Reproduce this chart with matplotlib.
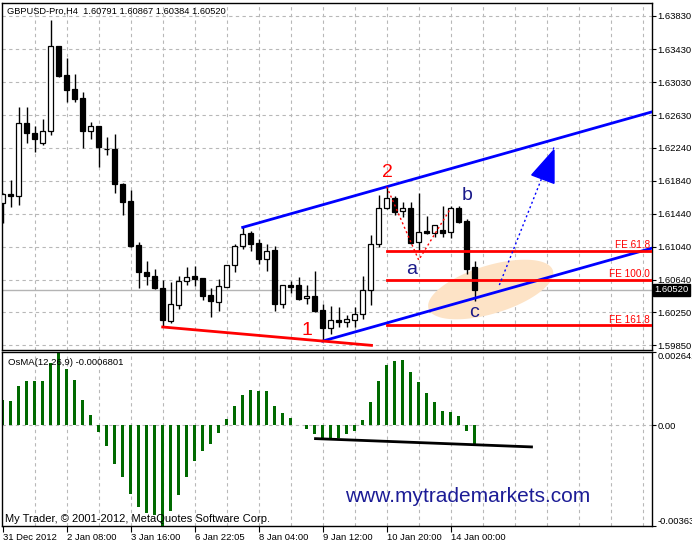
import numpy as np
import matplotlib
matplotlib.use('Agg')
import matplotlib.pyplot as plt
from matplotlib.transforms import blended_transform_factory
from matplotlib.patches import Polygon

plt.rcParams['font.family'] = ['Liberation Sans', 'DejaVu Sans']

# ---- GBPUSD H4 candles ----
opens = [1.61576, 1.61679, 1.61655, 1.62533, 1.62412, 1.62292, 1.62437, 1.63467, 1.63113, 1.62944,
         1.62839, 1.62437, 1.62501, 1.62226, 1.62219, 1.61800, 1.61594, 1.61059, 1.60733, 1.60684,
         1.60539, 1.60148, 1.60341, 1.60624, 1.60688, 1.60664, 1.60458, 1.60377, 1.60559, 1.60817,
         1.61054, 1.61204, 1.61083, 1.60890, 1.61002, 1.60353, 1.60576, 1.60579, 1.60418, 1.60446,
         1.60273, 1.60063, 1.60153, 1.60128, 1.60160, 1.60225, 1.60515, 1.61075, 1.61506, 1.61627,
         1.61470, 1.61506, 1.61095, 1.61228, 1.61204, 1.61240, 1.61216, 1.61506, 1.61352, 1.60791]
highs = [1.61691, 1.61848, 1.62727, 1.62727, 1.62501, 1.62582, 1.63782, 1.63470, 1.63322, 1.63129,
         1.62912, 1.62549, 1.62505, 1.62371, 1.62404, 1.61815, 1.61727, 1.61099, 1.60869, 1.60773,
         1.60640, 1.60612, 1.60688, 1.60797, 1.60809, 1.60668, 1.60539, 1.60648, 1.60817, 1.61071,
         1.61276, 1.61228, 1.61131, 1.61071, 1.61047, 1.60576, 1.60628, 1.60676, 1.60579, 1.60745,
         1.60350, 1.60329, 1.60310, 1.60220, 1.60310, 1.60688, 1.61183, 1.61667, 1.61767, 1.61655,
         1.61586, 1.61586, 1.61695, 1.61413, 1.61301, 1.61534, 1.61534, 1.61534, 1.61373, 1.60867]
lows = [1.61328, 1.61518, 1.61550, 1.62292, 1.62190, 1.62275, 1.62396, 1.63089, 1.62791, 1.62791,
        1.62235, 1.62340, 1.62002, 1.62154, 1.61695, 1.61429, 1.61042, 1.60539, 1.60579, 1.60527,
        1.60072, 1.60116, 1.60293, 1.60576, 1.60567, 1.60402, 1.60196, 1.60269, 1.60555, 1.60740,
        1.61018, 1.60994, 1.60829, 1.60752, 1.60269, 1.60305, 1.60486, 1.60402, 1.60350, 1.60249,
        1.59902, 1.59987, 1.60072, 1.60072, 1.60072, 1.60165, 1.60337, 1.61042, 1.61500, 1.61425,
        1.61405, 1.61075, 1.60982, 1.61200, 1.61163, 1.61163, 1.61151, 1.61325, 1.60708, 1.60384]
closes = [1.61679, 1.61655, 1.62533, 1.62412, 1.62340, 1.62437, 1.63467, 1.63105, 1.62936, 1.62831,
          1.62444, 1.62501, 1.62243, 1.62219, 1.61794, 1.61585, 1.61050, 1.60740, 1.60692, 1.60547,
          1.60160, 1.60346, 1.60624, 1.60672, 1.60655, 1.60450, 1.60389, 1.60563, 1.60817, 1.61047,
          1.61192, 1.61078, 1.60890, 1.60986, 1.60353, 1.60576, 1.60559, 1.60414, 1.60446, 1.60269,
          1.60063, 1.60153, 1.60128, 1.60165, 1.60225, 1.60515, 1.61075, 1.61506, 1.61627, 1.61465,
          1.61506, 1.61090, 1.61223, 1.61204, 1.61301, 1.61204, 1.61506, 1.61344, 1.60776, 1.60520]

# ---- OsMA(12,26,9) histogram ----
osma = [0.000913, 0.000877, 0.001418, 0.001599, 0.001599, 0.001599, 0.002237, 0.002642, 0.002021, 0.001635,
        0.000913, 0.000372, -0.000231, -0.000747, -0.001397, -0.001855, -0.002479, -0.002937, -0.003154, -0.003237,
        -0.003637, -0.003082, -0.002515, -0.001855, -0.001277, -0.000917, -0.000675, -0.000267, 0.000227, 0.000696,
        0.001093, 0.001274, 0.001238, 0.001238, 0.000696, 0.000455, 0.000274, 0.00002, -0.000144, -0.000314,
        -0.000469, -0.000469, -0.00045, -0.000314, -0.000195, 0.000191, 0.000841, 0.001599, 0.002176, 0.00232,
        0.002356, 0.001913, 0.001563, 0.001155, 0.000841, 0.000505, 0.00048, 0.000336, -0.000195, -0.00068]

time_labels = ['31 Dec 2012', '2 Jan 08:00', '3 Jan 16:00', '6 Jan 22:05',
               '8 Jan 04:00', '9 Jan 12:00', '10 Jan 20:00', '14 Jan 00:00']
price_ticks = [1.63830, 1.63430, 1.63030, 1.62630, 1.62240, 1.61840,
               1.61440, 1.61040, 1.60640, 1.60250, 1.59850]
osma_ticks = [0.002642, 0.0, -0.003637]
osma_tick_labels = ['0.002642', '0.00', '-0.003637']
last_price = 1.60520

# objects drawn on the chart
fe_levels = [1.60994, 1.60643, 1.60099]
fe_names = ['FE 61.8', 'FE 100.0', 'FE 161.8']
wave_x = [48, 52, 56]
wave_y = [1.61767, 1.60881, 1.61506]
proj_x = [62.08, 68.91]
proj_y = [1.60579, 1.62243]
head_x = [66.13, 68.91, 68.91]
head_y = [1.61909, 1.62211, 1.61808]
wave_labels = ['2', '1', 'a', 'b', 'c']
wave_lab_x = [48.06, 38.06, 51.08, 58.0, 58.94]
wave_lab_y = [1.61888, 1.59971, 1.60712, 1.61606, 1.60189]
wave_lab_col = ['#ff0000', '#ff0000', '#1a1a8a', '#1a1a8a', '#1a1a8a']
osc_line_x = [39.1, 66.1]
osc_line_y = [-0.000484, -0.000783]

W, H = 692, 543
n = len(closes)
idx = np.arange(n)
xlim = (-0.125, 81.125)
grid_col = '#b8b8b8'
dash = (0, (3, 3))
lab_fs = 6.8

fig = plt.figure(figsize=(W / 100, H / 100), dpi=100)
fig.patch.set_facecolor('white')
ax = fig.add_axes([1.7 / W, 1 - 350 / H, 650 / W, 347 / H])
ax2 = fig.add_axes([1.7 / W, 1 - 526 / H, 650 / W, 174 / H])

for a in (ax, ax2):
    a.set_xlim(*xlim)
    for s in a.spines.values():
        s.set_color('black')
        s.set_linewidth(1.0)
    for gx in range(4, 81, 4):
        a.axvline(gx, color=grid_col, lw=0.8, ls=dash, zorder=0)

# ---- main panel ----
ax.set_ylim(1.59794, 1.63987)
for p in price_ticks:
    ax.axhline(p, color=grid_col, lw=0.8, ls=dash, zorder=0)
ax.axhline(last_price, color='#b4b4b4', lw=1.0, zorder=0.5)

# peach ellipse (pixel geometry -> data)
t = np.linspace(0, 2 * np.pi, 200)
th = np.radians(17)
ea, eb = 65, 24
ex = 61.0 + (ea * np.cos(th) * np.cos(t) - eb * np.sin(th) * np.sin(t)) / 8.0
ey = 1.60525 + (ea * np.sin(th) * np.cos(t) + eb * np.cos(th) * np.sin(t)) / 8275.0
ax.fill(ex, ey, color='#fde3c6', lw=0, zorder=1)

o = np.array(opens); c = np.array(closes)
up = c >= o
ax.vlines(idx, lows, highs, color='black', lw=1, zorder=2)
body_lo = np.minimum(o, c)
body_h = np.maximum(np.abs(c - o), 0.00002)
ax.bar(idx, body_h, bottom=body_lo, width=0.55,
       color=np.where(up, 'white', 'black'), edgecolor='black', lw=0.9, zorder=3)

# channel lines
slope = (highs[48] - highs[30]) / (48 - 30)
xs = np.array([30, xlim[1]])
ax.plot(xs, highs[30] + slope * (xs - 30), color='#0000ff', lw=2, zorder=4)
xs = np.array([40, xlim[1]])
ax.plot(xs, lows[40] + slope * (xs - 40), color='#0000ff', lw=2, zorder=4)
rs = (lows[40] - lows[20]) / (40 - 20)
xs = np.array([20, 46.1])
ax.plot(xs, lows[20] + rs * (xs - 20), color='#ff0000', lw=2, zorder=4)

for lvl, nm in zip(fe_levels, fe_names):
    ax.plot([48, xlim[1]], [lvl, lvl], color='#ff0000', lw=2, zorder=4)
    ax.text(80.9, lvl + 0.00003, nm, color='#ff0000', fontsize=7.2, ha='right', va='bottom', zorder=5)

ax.plot(wave_x, wave_y, color='#ff0000', lw=1, ls=(0, (1.5, 2)), zorder=4)
ax.plot(proj_x, proj_y, color='#0000ff', lw=1, ls=(0, (1.5, 2)), zorder=4)
ax.add_patch(Polygon(list(zip(head_x, head_y)), closed=True, color='#0000ff', zorder=4))

for lab, lx, ly, lc in zip(wave_labels, wave_lab_x, wave_lab_y, wave_lab_col):
    ax.text(lx, ly, lab, color=lc, fontsize=14, ha='center', va='baseline', zorder=6)

ax.text(0.0086, 0.970, 'GBPUSD-Pro,H4  1.60791 1.60867 1.60384 1.60520',
        transform=ax.transAxes, fontsize=6.7, color='black', va='baseline', ha='left')

ax.yaxis.tick_right()
ax.set_yticks(price_ticks)
ax.set_yticklabels(['%.5f' % p for p in price_ticks])
ax.tick_params(axis='y', direction='out', length=3, width=0.8, pad=1.2, labelsize=lab_fs)
ax.set_xticks([])
tr = blended_transform_factory(ax.transAxes, ax.transData)
ax.text(1.004, last_price, '%.5f' % last_price, transform=tr, fontsize=lab_fs, color='white',
        va='center', ha='left', zorder=10,
        bbox=dict(facecolor='black', edgecolor='black', pad=1.0))

# ---- OsMA panel ----
ax2.set_ylim(-0.003637, 0.002642)
ax2.axhline(0, color=grid_col, lw=0.8, ls=dash, zorder=0)
ax2.bar(idx, osma, width=0.375, color='#006a00', zorder=2)
ax2.plot(osc_line_x, osc_line_y, color='black', lw=2, zorder=3)

ax2.yaxis.tick_right()
ax2.set_yticks(osma_ticks)
ax2.set_yticklabels(osma_tick_labels)
ax2.tick_params(axis='y', direction='out', length=3, width=0.8, pad=1.2, labelsize=lab_fs)
ylabs = ax2.get_yticklabels()
ylabs[0].set_va('top')
ylabs[2].set_va('bottom')

ax2.set_xticks(range(0, 57, 8))
ax2.set_xticklabels(time_labels)
ax2.tick_params(axis='x', direction='out', length=4, width=0.8, pad=1, labelsize=lab_fs)
for tl in ax2.get_xticklabels():
    tl.set_ha('left')

ax2.text(0.0092, 0.925, 'OsMA(12,26,9) -0.0006801', transform=ax2.transAxes,
         fontsize=6.8, va='baseline', ha='left')
ax2.text(0.0055, 0.0247, 'My Trader, \u00a9 2001-2012, MetaQuotes Software Corp.',
         transform=ax2.transAxes, fontsize=8, va='baseline', ha='left')
ax2.text(0.528, 0.1397, 'www.mytrademarkets.com', transform=ax2.transAxes,
         fontsize=15, color='#1c1c96', va='baseline', ha='left')

fig.savefig('out.png', dpi=100)
